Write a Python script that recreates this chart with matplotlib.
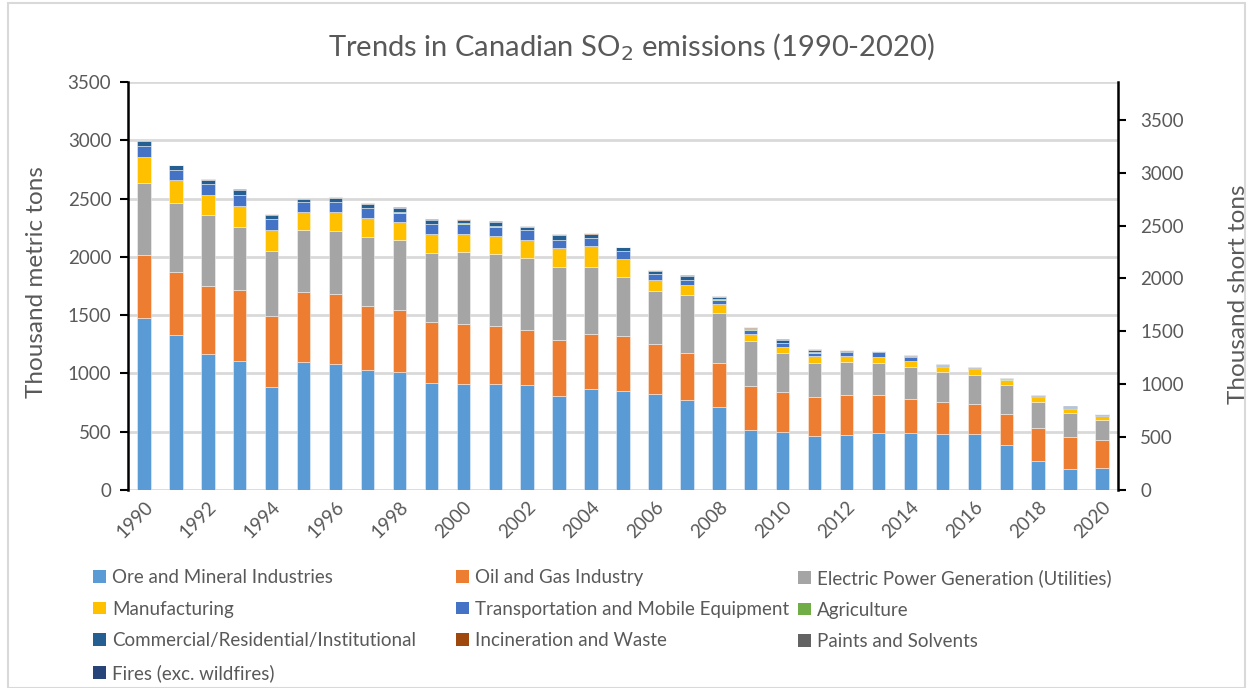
import matplotlib
matplotlib.use("Agg")
import matplotlib.pyplot as plt
import numpy as np
from matplotlib.patches import Rectangle, Patch

plt.rcParams['font.family'] = ['Lato', 'DejaVu Sans']

years = list(range(1990, 2021))
ore = [1474, 1329, 1166, 1109, 886, 1100, 1080, 1029, 1011, 920, 909, 906, 897, 806, 866, 851,
       823, 771, 712, 518, 501, 466, 472, 489, 486, 483, 483, 389, 251, 180, 189]
oil = [540, 542, 583, 605, 605, 597, 600, 551, 529, 517, 514, 500, 472, 477, 471, 466,
       426, 406, 381, 377, 343, 335, 343, 326, 297, 274, 257, 265, 283, 271, 242]
elec = [617, 589, 608, 546, 563, 537, 546, 594, 603, 600, 620, 622, 622, 628, 580, 514,
        454, 492, 429, 384, 332, 292, 284, 278, 271, 252, 249, 246, 217, 206, 166]
manuf = [226, 197, 177, 177, 177, 152, 160, 157, 157, 163, 157, 149, 152, 166, 177, 152,
         100, 88, 74, 57, 54, 57, 51, 49, 55, 48, 45, 43, 43, 40, 40]
trans = [91, 86, 89, 91, 92, 82, 82, 86, 80, 80, 86, 83, 85, 66, 66, 65,
         48, 43, 38, 40, 32, 29, 32, 40, 28, 6, 5, 4, 4, 4, 4]
agri = [3, 3, 3, 3, 3, 3, 3, 3, 3, 3, 3, 3, 3, 3, 3, 3,
        3, 3, 3, 3, 3, 3, 3, 2, 2, 2, 2, 2, 2, 2, 2]
comm = [45, 38, 35, 42, 37, 27, 35, 33, 33, 30, 30, 35, 27, 42, 37, 30,
        27, 30, 20, 14, 18, 19, 10, 8, 12, 8, 6, 5, 7, 6, 5]
incin = [2, 2, 2, 2, 2, 1, 2, 2, 2, 2, 2, 2, 2, 2, 2, 2,
         2, 2, 2, 2, 2, 2, 2, 1, 1, 1, 1, 1, 1, 1, 1]
paints = [3, 2, 2, 2, 1, 2, 3, 3, 3, 3, 2, 3, 2, 2, 2, 2,
          1, 5, 1, 2, 4, 3, 3, 2, 3, 4, 4, 3, 4, 5, 3]
fires = [5, 3, 3, 3, 2, 2, 3, 2, 5, 5, 3, 3, 1, 2, 2, 3,
         2, 3, 2, 2, 4, 4, 2, 1, 2, 2, 2, 2, 2, 2, 2]

series_names = ["Ore and Mineral Industries", "Oil and Gas Industry",
                "Electric Power Generation (Utilities)", "Manufacturing",
                "Transportation and Mobile Equipment", "Agriculture",
                "Commercial/Residential/Institutional", "Incineration and Waste",
                "Paints and Solvents", "Fires (exc. wildfires)"]
series_values = [ore, oil, elec, manuf, trans, agri, comm, incin, paints, fires]
colors = ["#5B9BD5", "#ED7D31", "#A5A5A5", "#FFC000", "#4472C4", "#70AD47",
          "#255E91", "#9E480E", "#636363", "#264478"]

text_color = "#595959"
grid_color = "#D9D9D9"
W, H = 1253, 688

fig = plt.figure(figsize=(W / 100, H / 100), dpi=100)
ax = fig.add_axes([128 / W, 1 - 490 / H, (1118 - 128) / W, (490 - 82) / H])

x = np.arange(len(years))
bottom = np.zeros(len(years))
for name, vals, c in zip(series_names, series_values, colors):
    v = np.array(vals, dtype=float)
    ax.bar(x, v, width=0.42, bottom=bottom, color=c, edgecolor=(1, 1, 1, 0.5),
           linewidth=0.6, label=name, zorder=3)
    bottom += v

ax.set_xlim(-0.5, len(years) - 0.5)
ax.set_ylim(0, 3500)
ax.set_yticks(np.arange(0, 3501, 500))
ax.yaxis.grid(True, color=grid_color, linewidth=2, zorder=0)
ax.set_axisbelow(True)
ax.set_xticks(x[::2])
ax.set_xticklabels([str(y) for y in years[::2]], rotation=45, ha='right', va='top',
                   rotation_mode='anchor', fontsize=13.5, color=text_color)
ax.tick_params(axis='x', length=0, pad=6)
ax.tick_params(axis='y', labelsize=13.5, labelcolor=text_color, length=6, width=1.5,
               color='black', pad=6)
for s in ['top', 'bottom', 'right']:
    ax.spines[s].set_visible(False)
ax.spines['left'].set_linewidth(1.8)
ax.spines['left'].set_color('black')
ax.set_ylabel("Thousand metric tons", fontsize=17.5, color=text_color)
ax.yaxis.set_label_coords((47 - 128) / 990, 0.51)

ax2 = ax.twinx()
ax2.set_ylim(0, 3500 * 1.10231)
ax2.set_yticks(np.arange(0, 3501, 500))
ax2.tick_params(axis='y', labelsize=13.5, labelcolor=text_color, length=6, width=1.5,
                color='black', pad=10)
for s in ['top', 'bottom', 'left']:
    ax2.spines[s].set_visible(False)
ax2.spines['right'].set_linewidth(1.8)
ax2.spines['right'].set_color('black')
ax2.set_ylabel("Thousand short tons", fontsize=17.5, color=text_color)
ax2.yaxis.set_label_coords((1228 - 128) / 990, 0.48)

fig.text(631 / W, 1 - 47 / H, "Trends in Canadian SO$_2$ emissions (1990-2020)",
         ha='center', va='center', fontsize=21, color=text_color)

# Legend: three columns laid out row by row, as in the reference
columns = [[0, 3, 6, 9], [1, 4, 7], [2, 5, 8]]
col_x = [93, 456, 798]
for cidx, xpos in zip(columns, col_x):
    handles = [Patch(facecolor=colors[i], edgecolor='none') for i in cidx]
    labels = [series_names[i] for i in cidx]
    fig.legend(handles, labels, loc='upper left', bbox_to_anchor=(xpos / W, 1 - 569 / H),
               ncol=1, frameon=False, fontsize=13.5, labelcolor=text_color,
               handlelength=0.68, handleheight=0.68, handletextpad=0.35,
               labelspacing=0.78, borderpad=0, borderaxespad=0)

fig.patches.append(Rectangle((8 / W, 0), (1245 - 8) / W, 1 - 3 / H,
                             transform=fig.transFigure, fill=False,
                             edgecolor=grid_color, linewidth=1.5))

fig.savefig("out.png", dpi=100)
